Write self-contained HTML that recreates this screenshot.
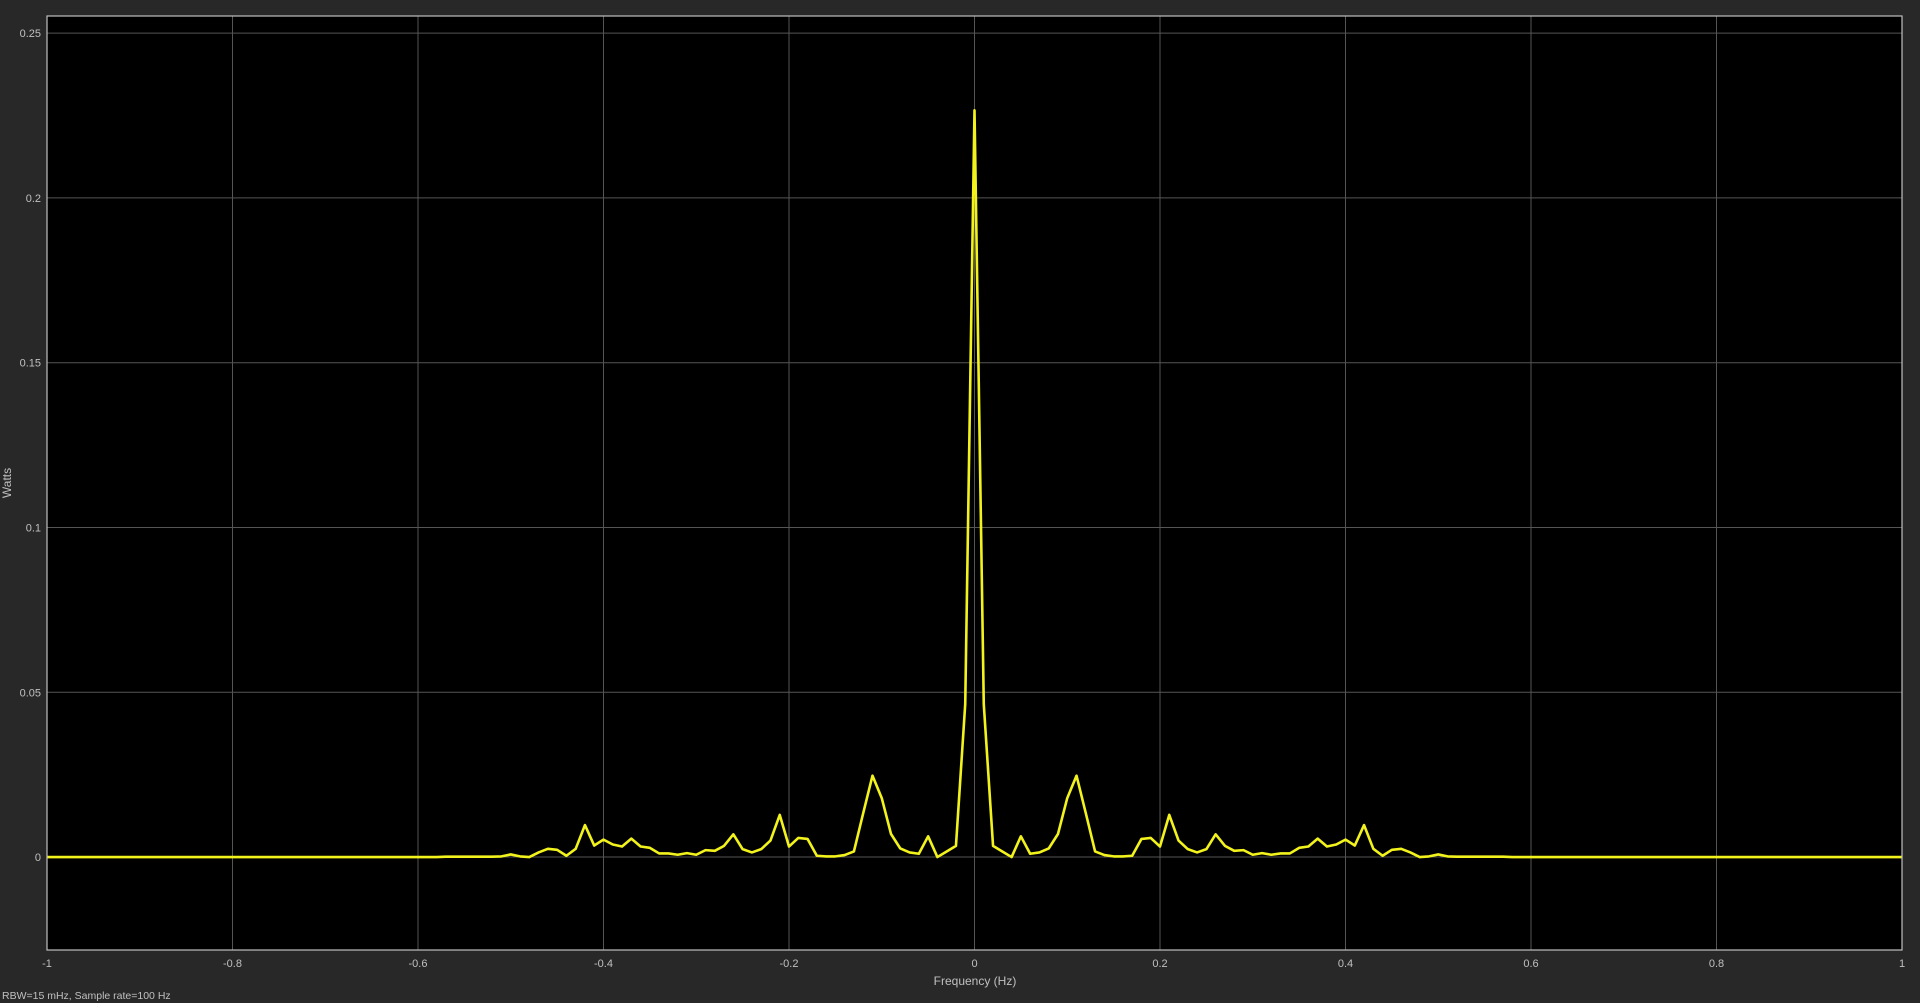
<!DOCTYPE html>
<html><head><meta charset="utf-8"><style>
html,body{margin:0;padding:0;background:#282828;}
svg{display:block;font-family:"Liberation Sans",sans-serif;}
</style></head><body>
<svg id="chart" width="1920" height="1003" viewBox="0 0 1920 1003" xmlns="http://www.w3.org/2000/svg">
<rect x="0" y="0" width="1920" height="1003" fill="#282828"/>
<rect x="47" y="16" width="1855" height="934" fill="#000"/>
<g id="grid"></g>
<g id="ticks"></g>
<polyline id="line" fill="none" stroke="#f2f21c" stroke-width="2.6" stroke-linejoin="round"/>
<rect x="47" y="16" width="1855" height="934" fill="none" stroke="#c0c0c0" stroke-width="1.2"/>
<text transform="translate(11,483) rotate(-90)" text-anchor="middle" fill="#c0c0c0" font-size="12">Watts</text>
<text x="975" y="985" text-anchor="middle" fill="#c0c0c0" font-size="12">Frequency (Hz)</text>
<text x="2" y="999" fill="#c0c0c0" font-size="10.5">RBW=15 mHz, Sample rate=100 Hz</text>
</svg>
<script>
const xTicks=[-1,-0.8,-0.6,-0.4,-0.2,0,0.2,0.4,0.6,0.8,1];
const xTickLabels=["-1","-0.8","-0.6","-0.4","-0.2","0","0.2","0.4","0.6","0.8","1"];
const yTicks=[0,0.05,0.1,0.15,0.2,0.25];
const yTickLabels=["0","0.05","0.1","0.15","0.2","0.25"];
const freqStart=-1, freqStep=0.01;
const power=[
0,0,0,0,0,0,0,0,0,0,0,0,0,0,0,0,0,0,0,0,
0,0,0,0,0,0,0,0,0,0,0,0,0,0,0,0,0,0,0,0,
0,0,0,0.0001,0.0001,0.0001,0.0001,0.0001,0.0001,0.0002,
0.0008,0.0002,0,0.0014,0.0025,0.0022,0.0004,0.0025,0.0097,0.0035,
0.0053,0.0038,0.0032,0.0056,0.0032,0.0028,0.0011,0.0011,0.0007,0.0012,
0.0007,0.0021,0.0019,0.0034,0.0069,0.0024,0.0014,0.0024,0.005,0.0128,
0.0032,0.0058,0.0055,0.0004,0.0002,0.0002,0.0006,0.0017,0.0133,0.0247,
0.0179,0.007,0.0026,0.0014,0.001,0.0063,0,0.0017,0.0034,0.0464,
0.2266,
0.0464,0.0034,0.0017,0,0.0063,0.001,0.0014,0.0026,0.007,0.0179,
0.0247,0.0133,0.0017,0.0006,0.0002,0.0002,0.0004,0.0055,0.0058,0.0032,
0.0128,0.005,0.0024,0.0014,0.0024,0.0069,0.0034,0.0019,0.0021,0.0007,
0.0012,0.0007,0.0011,0.0011,0.0028,0.0032,0.0056,0.0032,0.0038,0.0053,
0.0035,0.0097,0.0025,0.0004,0.0022,0.0025,0.0014,0,0.0002,0.0008,
0.0002,0.0001,0.0001,0.0001,0.0001,0.0001,0.0001,0,0,0,
0,0,0,0,0,0,0,0,0,0,0,0,0,0,0,0,0,0,0,0,
0,0,0,0,0,0,0,0,0,0,0,0,0,0,0,0,0,0,0,0
];
const L=47,R=1902,T=16,B=950,xMin=-1,xMax=1,yMin=-0.0282,yMax=0.2552;
function xs(v){return L+(v-xMin)/(xMax-xMin)*(R-L);}
function ys(v){return B-(v-yMin)/(yMax-yMin)*(B-T);}
const NS="http://www.w3.org/2000/svg";
const grid=document.getElementById('grid'),ticks=document.getElementById('ticks');
xTicks.forEach((v,i)=>{
  const x=xs(v);
  if(i>0&&i<xTicks.length-1){
    const l=document.createElementNS(NS,'line');
    
    
    l.setAttribute('x1',x);l.setAttribute('x2',x);l.setAttribute('y1',T);l.setAttribute('y2',B);
    l.setAttribute('stroke','#555');l.setAttribute('stroke-width','1');
    grid.appendChild(l);
  }
  const t=document.createElementNS(NS,'text');
  
  
  t.setAttribute('x',x);t.setAttribute('y',967);t.setAttribute('text-anchor','middle');
  t.setAttribute('fill','#c0c0c0');t.setAttribute('font-size','11');
  t.textContent=xTickLabels[i];ticks.appendChild(t);
});
yTicks.forEach((v,i)=>{
  const y=ys(v);
  const l=document.createElementNS(NS,'line');
  
  
  l.setAttribute('x1',L);l.setAttribute('x2',R);l.setAttribute('y1',y);l.setAttribute('y2',y);
  l.setAttribute('stroke','#555');l.setAttribute('stroke-width','1');
  grid.appendChild(l);
  const t=document.createElementNS(NS,'text');
  
  
  t.setAttribute('x',41);t.setAttribute('y',y+4);t.setAttribute('text-anchor','end');
  t.setAttribute('fill','#c0c0c0');t.setAttribute('font-size','11');
  t.textContent=yTickLabels[i];ticks.appendChild(t);
});
const pts=power.map((p,i)=>xs(freqStart+i*freqStep).toFixed(2)+','+ys(p).toFixed(2));
document.getElementById('line').setAttribute('points',pts.join(' '));
</script>
</body></html>
